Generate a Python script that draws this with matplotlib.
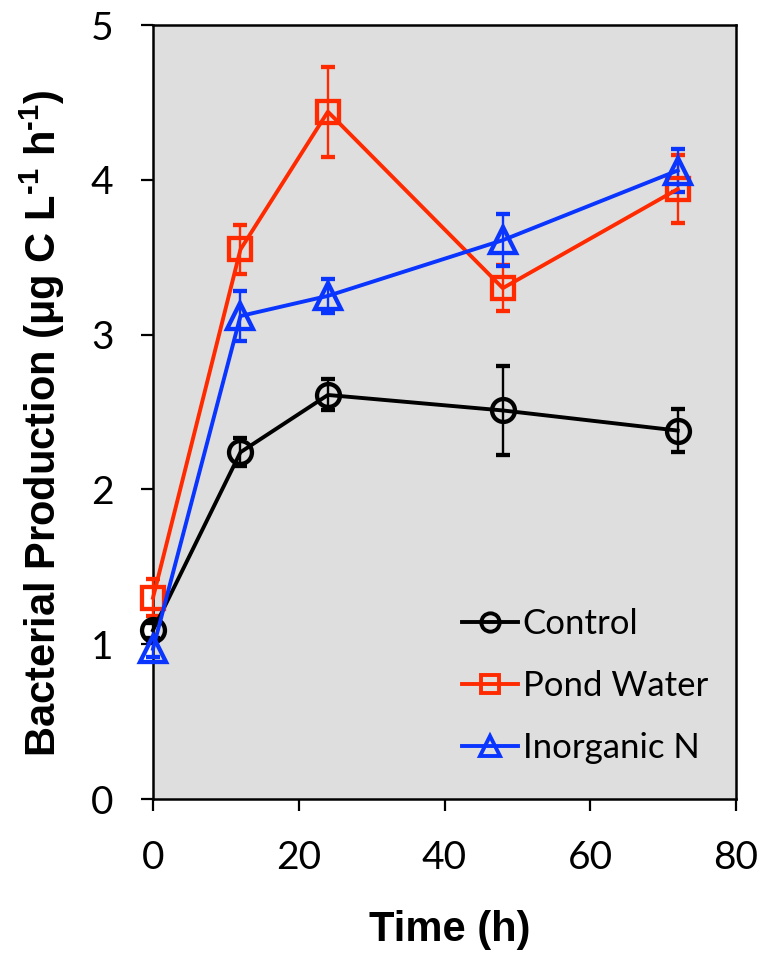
import matplotlib

matplotlib.use("Agg")
import matplotlib.pyplot as plt
from matplotlib.lines import Line2D

# time points (h)
time_h = [0, 12, 24, 48, 72]

control = [1.09, 2.24, 2.61, 2.51, 2.38]
control_err = [0.05, 0.09, 0.10, 0.29, 0.14]

pond_water = [1.30, 3.55, 4.44, 3.30, 3.94]
pond_water_err = [0.12, 0.16, 0.29, 0.15, 0.22]

inorganic_n = [0.97, 3.12, 3.25, 3.61, 4.06]
inorganic_n_err = [0.05, 0.16, 0.11, 0.17, 0.14]

series_labels = ["Control", "Pond Water", "Inorganic N"]
series_colors = ["#000000", "#FF2A00", "#0A35FF"]
series_markers = ["o", "s", "^"]
marker_sizes = [16.5, 16.5, 18.5]

x_ticks = [0, 20, 40, 60, 80]
y_ticks = [0, 1, 2, 3, 4, 5]

plt.rcParams["mathtext.fontset"] = "custom"
plt.rcParams["mathtext.rm"] = "Liberation Sans:bold"
plt.rcParams["mathtext.bf"] = "Liberation Sans:bold"

fig = plt.figure(figsize=(7.76, 9.58), dpi=100)
ax = fig.add_axes([153 / 776, 1 - 799 / 958, (736 - 153) / 776, (799 - 25) / 958])
ax.set_facecolor("#DEDEDE")

all_values = [control, pond_water, inorganic_n]
all_errors = [control_err, pond_water_err, inorganic_n_err]
handles = []
for values, errors, label, color, marker, ms in zip(
    all_values, all_errors, series_labels, series_colors, series_markers, marker_sizes
):
    container = ax.errorbar(
        time_h,
        values,
        yerr=errors,
        color=color,
        linewidth=2.8,
        marker=marker,
        markersize=ms,
        markerfacecolor="none",
        markeredgecolor=color,
        markeredgewidth=3.1,
        elinewidth=1.7,
        capsize=5,
        capthick=1.8,
        zorder=3,
    )
    for child in container.get_children():
        child.set_clip_on(False)
    handles.append(
        Line2D(
            [], [],
            color=color,
            linewidth=2.8,
            marker=marker,
            markersize=ms * 0.8,
            markerfacecolor="none",
            markeredgewidth=2.8,
            label=label,
        )
    )

ax.set_xlim(0, 80)
ax.set_ylim(0, 5)
ax.set_xticks(x_ticks)
ax.set_yticks(y_ticks)
ax.set_xticklabels([str(t) for t in x_ticks], family="Lato", fontsize=28)
ax.set_yticklabels([str(t) for t in y_ticks], family="Lato", fontsize=28)
ax.tick_params(axis="both", direction="out", length=8.5, width=1.6, color="black")
ax.tick_params(axis="x", pad=21)
ax.tick_params(axis="y", pad=20)
for spine in ax.spines.values():
    spine.set_linewidth(1.8)
    spine.set_color("black")

ax.set_xlabel("Time (h)", family="Liberation Sans", fontweight="bold", fontsize=30)
ax.set_ylabel(
    r"Bacterial Production (μg C L$^{\text{-1}}$ h$^{\text{-1}}$)",
    family="Liberation Sans",
    fontweight="bold",
    fontsize=30,
)
ax.xaxis.set_label_coords(0.509, -0.144)
ax.yaxis.set_label_coords(-0.148, 0.485)

ax.legend(
    handles=handles,
    loc="lower left",
    bbox_to_anchor=(0.53, 0.045),
    frameon=False,
    prop={"family": "Lato", "size": 25},
    borderpad=0,
    borderaxespad=0,
    handlelength=1.6,
    handletextpad=0.15,
    labelspacing=0.87,
)

fig.savefig("out.png", dpi=100, facecolor="white")
